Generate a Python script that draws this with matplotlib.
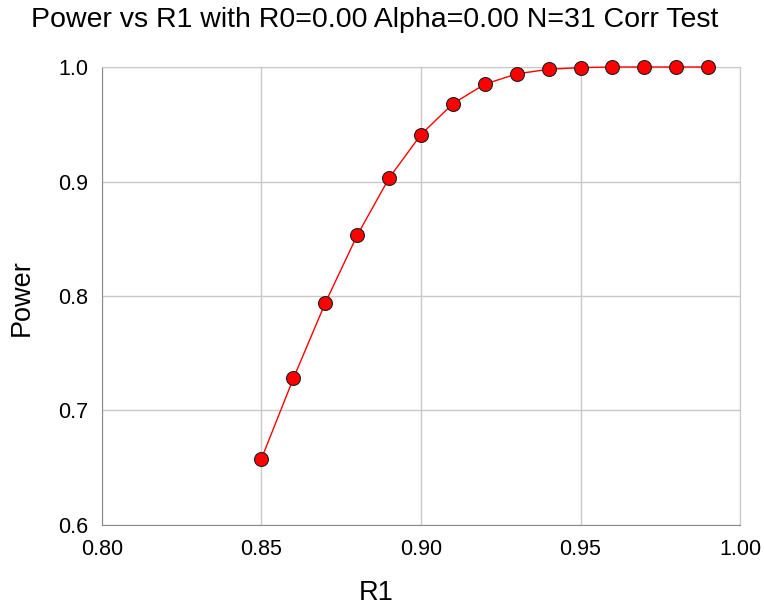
import numpy as np
import matplotlib
matplotlib.use('Agg')
import matplotlib.pyplot as plt

# data
r1 = [0.85, 0.86, 0.87, 0.88, 0.89, 0.90, 0.91, 0.92, 0.93, 0.94, 0.95, 0.96, 0.97, 0.98, 0.99]
power = [0.658, 0.728, 0.794, 0.853, 0.903, 0.941, 0.968, 0.985, 0.994, 0.998, 0.9995, 1.0, 1.0, 1.0, 1.0]
x_ticks = [0.80, 0.85, 0.90, 0.95, 1.00]
y_ticks = [0.6, 0.7, 0.8, 0.9, 1.0]

plt.rcParams['font.family'] = ['Liberation Sans', 'DejaVu Sans']

fig = plt.figure(figsize=(7.64, 6.07), dpi=100)
ax = fig.add_axes([0.1335, 0.1351, 0.8351, 0.7545])

ax.plot(r1, power, color='red', linewidth=1, marker='o', markersize=10,
        markerfacecolor='red', markeredgecolor='#202020', markeredgewidth=0.8,
        zorder=3, clip_on=False)

ax.set_xlim(0.80, 1.00)
ax.set_ylim(0.6, 1.0)
ax.set_xticks(x_ticks)
ax.set_xticklabels(['%.2f' % v for v in x_ticks])
ax.set_yticks(y_ticks)
ax.set_yticklabels(['%.1f' % v for v in y_ticks])
ax.grid(True, color='#c8c8c8', linewidth=1)
ax.set_axisbelow(True)

for s in ['left', 'bottom']:
    ax.spines[s].set_color('#8c8c8c')
for s in ['top', 'right']:
    ax.spines[s].set_color('#c8c8c8')

ax.tick_params(length=0, labelsize=15.5, pad=10)

# titles and labels are centred on the figure, not the axes
fig.text(0.491, 0.967, 'Power vs R1 with R0=0.00 Alpha=0.00 N=31 Corr Test',
         fontsize=20.5, ha='center', va='center')
fig.text(0.492, 0.023, 'R1', fontsize=19.5, ha='center', va='center')
fig.text(0.029, 0.509, 'Power', fontsize=19.5, ha='center', va='center', rotation=90)

fig.savefig('out.png', dpi=100)
